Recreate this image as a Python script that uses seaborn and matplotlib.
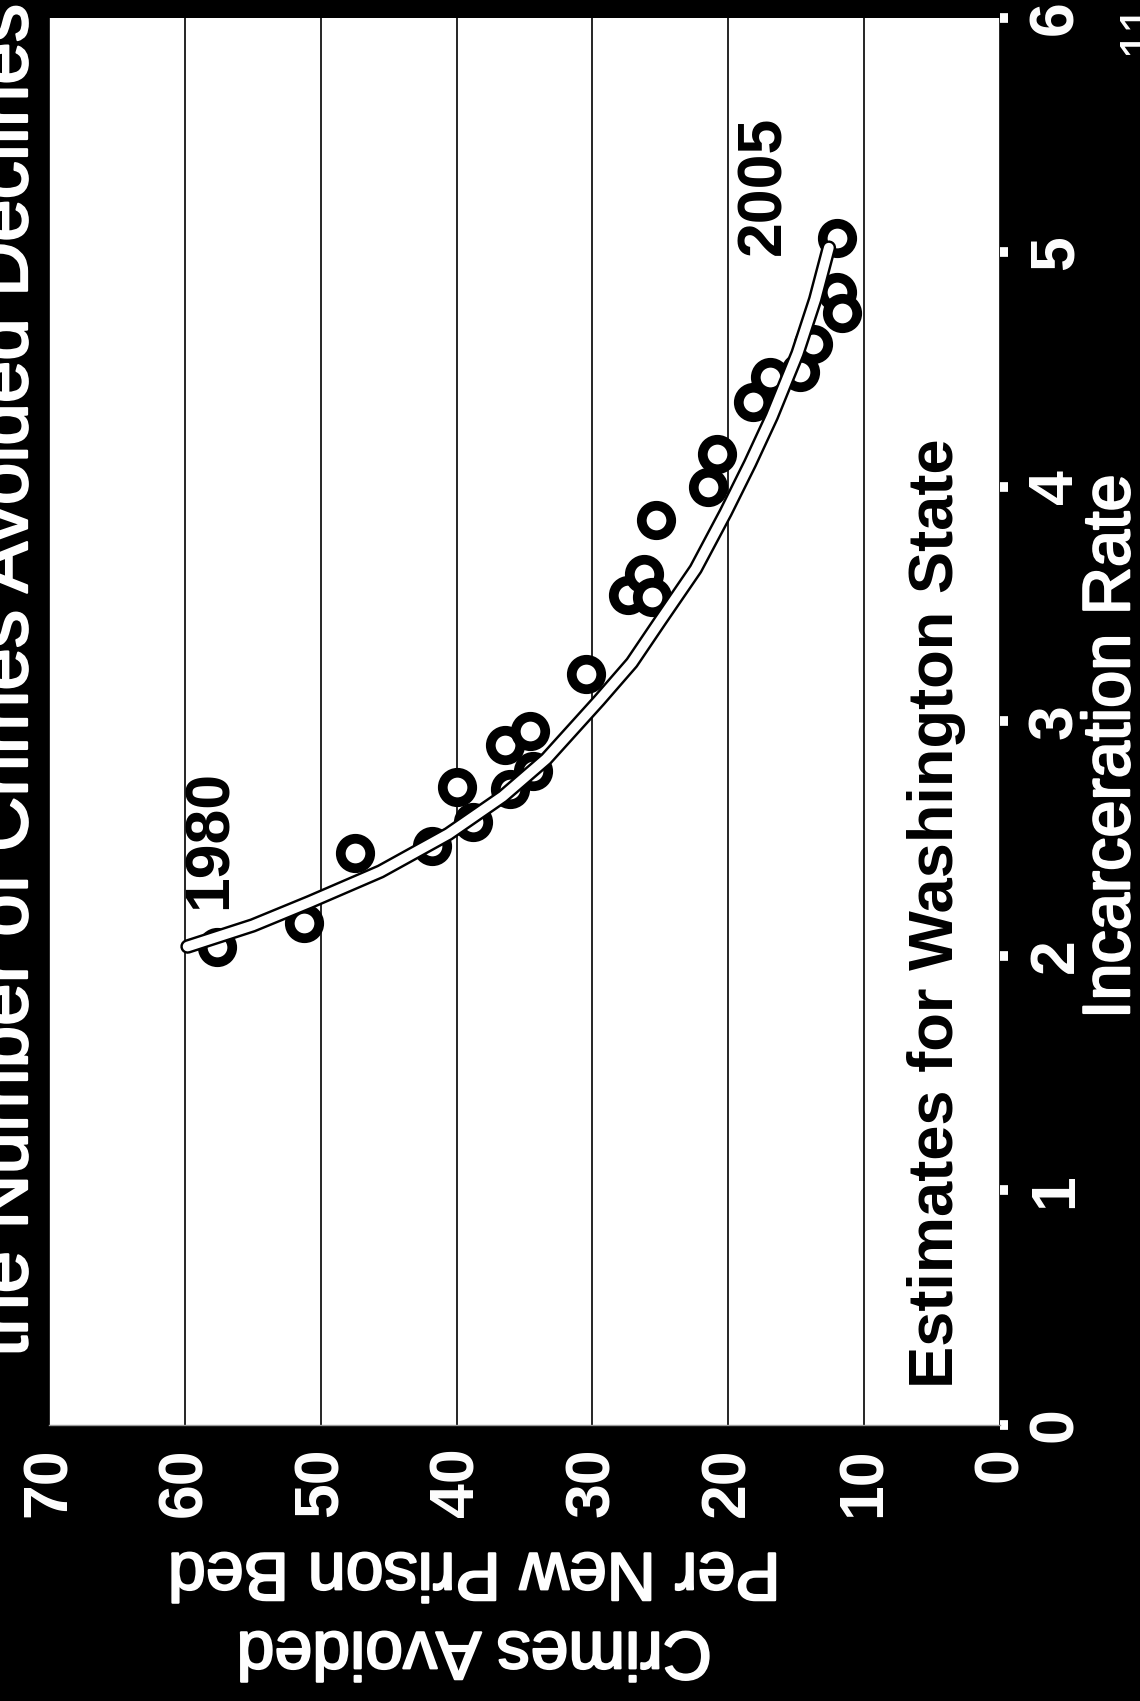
import matplotlib
matplotlib.use("Agg")
import numpy as np
import pandas as pd
import matplotlib.pyplot as plt
import matplotlib.patheffects as pe
import seaborn as sns

# Washington State, 1980-2005: incarceration rate vs crimes avoided per new prison bed
rate = [2.04, 2.14, 2.44, 2.47, 2.72, 2.57, 2.90, 2.71, 2.96, 2.79, 3.20, 3.54,
        3.63, 3.53, 3.86, 4.00, 4.14, 4.36, 4.47, 4.49, 4.61, 4.83, 4.74, 5.06]
crimes = [57.6, 51.2, 47.5, 41.8, 40.0, 38.8, 36.4, 36.1, 34.6, 34.4, 30.5, 27.4,
          26.2, 25.6, 25.3, 21.5, 20.8, 18.2, 16.9, 14.7, 13.8, 12.0, 11.6, 12.0]

# trend curve
curve_rate = [2.04, 2.13, 2.23, 2.36, 2.52, 2.68, 2.84, 3.09, 3.25, 3.43, 3.65,
              3.89, 4.10, 4.30, 4.57, 4.80, 5.02]
curve_crimes = [59.8, 55.0, 50.8, 45.6, 40.6, 36.6, 33.4, 29.5, 27.1, 25.0, 22.4,
                20.2, 18.4, 16.8, 14.9, 13.6, 12.6]

rate_ticks = [0, 1, 2, 3, 4, 5, 6]
crime_ticks = [0, 10, 20, 30, 40, 50, 60, 70]

sns.set_style("white")
plt.rcParams['font.family'] = ['Liberation Sans', 'DejaVu Sans']

# the slide was scanned on its side, so the chart is drawn turned 90 degrees
fig = plt.figure(figsize=(11.4, 17.01), dpi=100, facecolor='black')
ax = fig.add_axes([0.043, 0.1623, 0.8342, 0.8272])
ax.set_facecolor('white')

pts = pd.DataFrame({'rate': rate, 'crimes': crimes})
sns.scatterplot(data=pts, x='crimes', y='rate', ax=ax, s=450, color='white',
                edgecolor='black', linewidth=7, zorder=3, legend=False)

curve = pd.DataFrame({'rate': curve_rate, 'crimes': curve_crimes})
sns.lineplot(data=curve, x='crimes', y='rate', ax=ax, sort=False, estimator=None,
             color='black', lw=10.5, zorder=4, legend=False)
sns.lineplot(data=curve, x='crimes', y='rate', ax=ax, sort=False, estimator=None,
             color='white', lw=7, zorder=5, legend=False)

ax.set_xlim(70, 0)
ax.set_ylim(0, 6)
ax.set_xlabel('')
ax.set_ylabel('')

ax.set_xticks(crime_ticks)
ax.set_xticklabels([str(t) for t in crime_ticks])
ax.yaxis.tick_right()
ax.set_yticks(rate_ticks)
ax.set_yticklabels([str(t) for t in rate_ticks])

ax.set_axisbelow(True)
ax.grid(axis='x', color='black', lw=1.2)
ax.grid(axis='y', visible=False)

ax.tick_params(axis='x', bottom=True, length=0, pad=16, labelsize=45,
               labelcolor='white', labelrotation=90)
ax.tick_params(axis='y', right=True, left=False, direction='out', length=6,
               width=7, color='white', pad=13, labelsize=45,
               labelcolor='white', labelrotation=90)
for lab in ax.get_xticklabels():
    lab.set_fontweight('bold')
for lab in ax.get_yticklabels():
    lab.set_fontweight('bold')
    lab.set_va('center')

for side in ['top', 'left', 'right']:
    ax.spines[side].set_visible(False)
ax.spines['bottom'].set_color('#9a9a9a')
ax.spines['bottom'].set_linewidth(1.0)

ax.text(0.1872, 0.4158, '1980', transform=ax.transAxes, rotation=90,
        rotation_mode='anchor', ha='center', va='baseline', fontsize=45,
        fontweight='bold', color='black', zorder=6)
ax.text(0.7687, 0.8813, '2005', transform=ax.transAxes, rotation=90,
        rotation_mode='anchor', ha='center', va='baseline', fontsize=45,
        fontweight='bold', color='black', zorder=6)
ax.text(0.9506, 0.364, 'Estimates for Washington State', transform=ax.transAxes,
        rotation=90, rotation_mode='anchor', ha='center', va='baseline',
        fontsize=45.5, fontweight='bold', color='black', zorder=6)

heavy = [pe.withStroke(linewidth=1.6, foreground='white')]
fig.text(0.9905, 0.561, 'Incarceration Rate', rotation=90, rotation_mode='anchor',
         ha='center', va='baseline', fontsize=48, color='white', path_effects=heavy)
fig.text(0.416, 0.053, 'Crimes Avoided\nPer New Prison Bed', rotation=180,
         ha='center', va='center', fontsize=49, color='white', linespacing=1.3,
         multialignment='center', path_effects=heavy)
fig.text(0.0237, 0.2022, 'the Number of Crimes Avoided Declines', rotation=90,
         rotation_mode='anchor', ha='left', va='baseline', fontsize=55,
         color='white', path_effects=heavy)
fig.text(1.012, 0.984, '11', rotation=90, rotation_mode='anchor', ha='center',
         va='baseline', fontsize=38, color='white')

fig.savefig('out.png', dpi=100, facecolor='black')
